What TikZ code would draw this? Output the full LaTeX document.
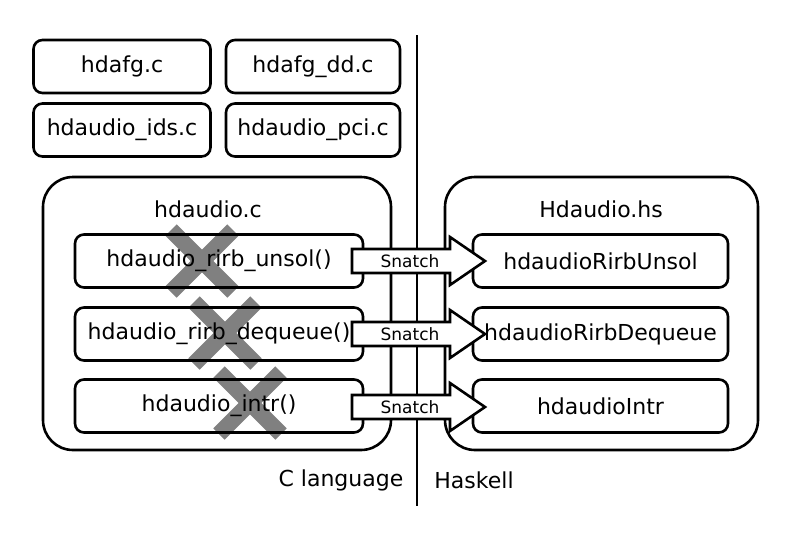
\documentclass[tikz,border=0pt]{standalone}
\usepackage{fontspec}
\setmainfont{DejaVu Sans}
\begin{document}
\begin{tikzpicture}[x=1pt,y=-1pt,line width=2.6pt,
  filebox/.style={draw, rounded corners=9pt, minimum height=53pt, inner sep=0pt,
    font=\fontsize{22}{26}\selectfont},
  bigbox/.style={draw, rounded corners=30pt, minimum width=#1, minimum height=273pt, inner sep=0pt},
  title/.style={font=\fontsize{22}{26}\selectfont, inner sep=0pt},
  snatcharrow/.style={draw, fill=white, line width=2.6pt},
  snatchtext/.style={font=\fontsize{17}{20}\selectfont, inner sep=0pt},
  crossmark/.style={draw=black!50, line width=16pt},
  lang/.style={font=\fontsize{22}{26}\selectfont, inner sep=0pt}]
\useasboundingbox (0,0) rectangle (800,539);

% crosses (behind everything)
\foreach \cx/\cy in {202/261,225/333,250/403}{
  \draw[crossmark] (\cx-31,\cy-31) -- (\cx+31,\cy+31);
  \draw[crossmark] (\cx+31,\cy-31) -- (\cx-31,\cy+31);
}

% top file boxes
\node[filebox, minimum width=177pt] (fg) at (122,66.5) {hdafg.c};
\node[filebox, minimum width=174pt] (fgdd) at (313,66.5) {hdafg\_dd.c};
\node[filebox, minimum width=177pt] (ids) at (122,130) {hdaudio\_ids.c};
\node[filebox, minimum width=174pt] (pci) at (313,130) {hdaudio\_pci.c};

% big boxes
\node[bigbox=348pt] (cfile) at (217,313.5) {};
\node[bigbox=313pt] (hsfile) at (601.5,313.5) {};
\node[title] (ctitle) at (208,209) {hdaudio.c};
\node[title] (hstitle) at (601,209) {Hdaudio.hs};

% divider
\coordinate (divtop) at (417,35);
\coordinate (divbot) at (417,506);
\draw (divtop) -- (divbot);

% inner boxes
\node[filebox, minimum width=288pt] (cu) at (219,261) {hdaudio\_rirb\_unsol()};
\node[filebox, minimum width=288pt] (cd) at (219,334) {hdaudio\_rirb\_dequeue()};
\node[filebox, minimum width=288pt] (ci) at (219,406) {hdaudio\_intr()};
\node[filebox, minimum width=255pt] (hu) at (600.5,261) {hdaudioRirbUnsol};
\node[filebox, minimum width=255pt] (hd) at (600.5,334) {hdaudioRirbDequeue};
\node[filebox, minimum width=255pt] (hi) at (600.5,406) {hdaudioIntr};

% snatch arrows
\foreach \y/\n in {261/a1,334/a2,407/a3}{
  \draw[snatcharrow] (352,\y-12) -- (450,\y-12) -- (450,\y-24) -- (485,\y)
     -- (450,\y+24) -- (450,\y+12) -- (352,\y+12) -- cycle;
  \node[snatchtext] (\n) at (410,\y) {Snatch};
}

% language labels
\node[lang] (clang) at (341,480) {C language};
\node[lang] (hlang) at (474,480) {Haskell};
\end{tikzpicture}
\end{document}
